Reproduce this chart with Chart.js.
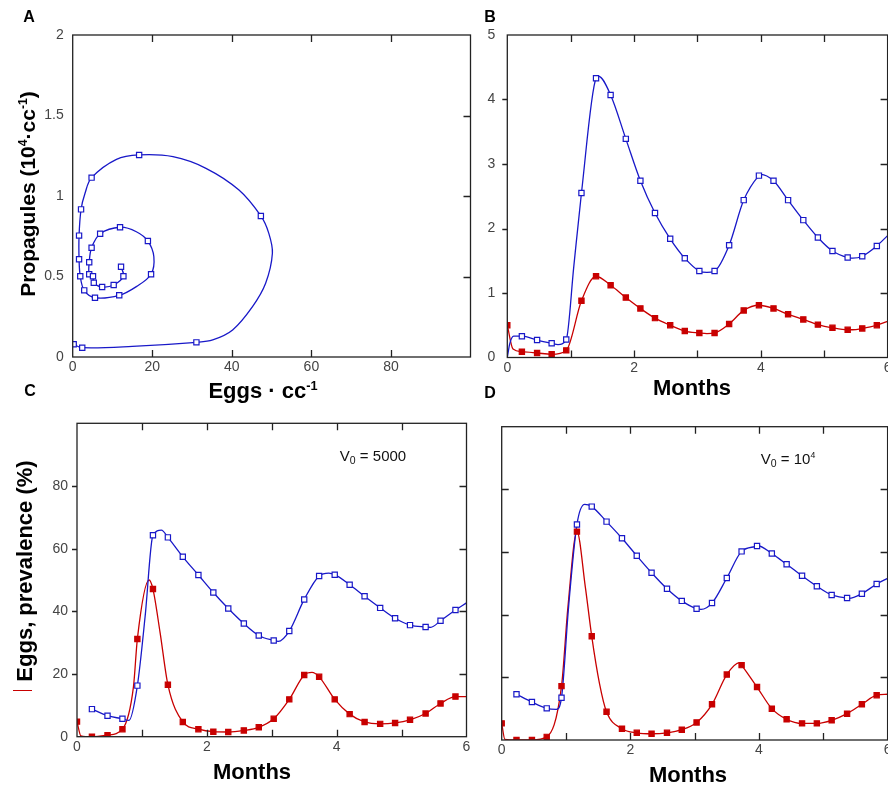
<!DOCTYPE html>
<html><head><meta charset="utf-8">
<script src="https://cdn.jsdelivr.net/npm/chart.js@4.4.0/dist/chart.umd.min.js"></script>
<style>
html,body{margin:0;padding:0;background:#fff;}
body{width:888px;height:789px;overflow:hidden;position:relative;font-family:"Liberation Sans",Arial,sans-serif;}
canvas{position:absolute;}
.t{position:absolute;transform:translate(-50%,-50%);white-space:nowrap;font-weight:bold;color:#000;line-height:1;}
.r{transform:translate(-50%,-50%) rotate(-90deg);}
.n{font-weight:normal;color:#111;}
sup{font-size:58%;vertical-align:0.65em;line-height:0;}
sub{font-size:70%;vertical-align:-0.3em;line-height:0;}
</style></head><body>
<canvas id="cA" width="480" height="390" style="left:0px;top:0px"></canvas>
<canvas id="cB" width="420" height="390" style="left:480px;top:0px"></canvas>
<canvas id="cC" width="480" height="399" style="left:0px;top:390px"></canvas>
<canvas id="cD" width="420" height="399" style="left:480px;top:390px"></canvas>

<div class="t" style="left:29px;top:17px;font-size:16px">A</div>
<div class="t" style="left:490px;top:17px;font-size:16px">B</div>
<div class="t" style="left:30px;top:391px;font-size:16px">C</div>
<div class="t" style="left:490px;top:393px;font-size:16px">D</div>

<div class="t r" style="left:27px;top:194px;font-size:21px">Propagules (10<sup>4</sup>·cc<sup>-1</sup>)</div>
<div class="t" style="left:263px;top:391px;font-size:22px">Eggs · cc<sup>-1</sup></div>
<div class="t" style="left:692px;top:388px;font-size:22px">Months</div>
<div class="t r" style="left:25px;top:571px;font-size:22px">Eggs, prevalence (%)</div>
<div style="position:absolute;left:13px;top:690px;width:19px;height:1px;background:#c80000"></div>
<div class="t" style="left:252px;top:772px;font-size:22px">Months</div>
<div class="t" style="left:688px;top:775px;font-size:22px">Months</div>
<div class="t n" style="left:373px;top:455px;font-size:15px">V<sub>0</sub> = 5000</div>
<div class="t n" style="left:788px;top:458px;font-size:15px">V<sub>0</sub> = 10<sup>4</sup></div>

<script>
// ---------- DATA ----------
// Panel A: phase plot (eggs, propagules), trajectory in time order
const phasePath = [[0,0.09],[0.25,0.079],[2.4,0.058],[15,0.066],[31.1,0.091],[35.2,0.106],[40.2,0.168],[45.2,0.313],[48.5,0.458],[50.2,0.644],[49.3,0.768],[47.3,0.876],[41.8,1.037],[33.5,1.172],[25.2,1.244],[16.7,1.255],[11.0,1.228],[4.75,1.114],[3.1,1.017],[2.1,0.917],[1.6,0.754],[1.6,0.607],[1.9,0.501],[2.9,0.414],[5.6,0.368],[11.7,0.383],[16,0.437],[19.7,0.514],[20.4,0.623],[18.9,0.72],[16,0.778],[11.9,0.806],[6.9,0.766],[4.75,0.679],[4.15,0.588],[4.15,0.514],[5.1,0.501],[5.3,0.461],[7.4,0.435],[10.3,0.447],[12.75,0.501],[12.15,0.561]];
const phaseMarkers = [[0.25,0.079],[2.4,0.058],[31.1,0.091],[47.3,0.876],[16.7,1.255],[4.75,1.114],[2.1,0.917],[1.6,0.754],[1.6,0.607],[1.9,0.501],[2.9,0.414],[5.6,0.368],[11.7,0.383],[19.7,0.514],[18.9,0.72],[11.9,0.806],[6.9,0.766],[4.75,0.679],[4.15,0.588],[4.15,0.514],[5.1,0.501],[5.3,0.461],[7.4,0.435],[10.3,0.447],[12.75,0.501],[12.15,0.561]];

// weekly sample times (months)
const weeks = [0,0.23,0.47,0.70,0.93,1.17,1.40,1.63,1.87,2.10,2.33,2.57,2.80,3.03,3.27,3.50,3.73,3.97,4.20,4.43,4.67,4.90,5.13,5.37,5.60,5.83];

// Panel B
const propB = [null,0.33,0.27,0.22,0.28,2.55,4.33,4.07,3.39,2.74,2.24,1.84,1.54,1.34,1.34,1.74,2.44,2.82,2.74,2.44,2.13,1.86,1.65,1.55,1.57,1.73];
const eggsB = [0.50,0.09,0.07,0.05,0.11,0.88,1.26,1.12,0.93,0.76,0.61,0.50,0.41,0.38,0.38,0.52,0.73,0.81,0.76,0.67,0.59,0.51,0.46,0.43,0.45,0.50];
const propBExtra = [[0,0],[0.04,0.22],[0.1,0.33],[0.8,0.2],[1.05,1.42],[1.44,4.36],[3.15,1.32],[4.0,2.84],[5.45,1.54],[6.0,1.89]];
const eggsBExtra = [[0.09,0.13],[3.15,0.37],[5.45,0.43],[6.0,0.56]];

// Panel C (V0 = 5000)
const prevC = [null,8.8,6.7,5.7,16.3,64.3,63.6,57.4,51.6,46.0,40.9,36.1,32.3,30.7,33.7,43.8,51.3,51.7,48.5,44.8,41.1,37.8,35.6,35.0,37.0,40.4];
const eggsC = [4.8,0,0.5,2.4,31.2,47.1,16.6,4.7,2.4,1.6,1.5,2.0,3.0,5.7,11.9,19.7,19.1,11.9,7.2,4.7,4.1,4.4,5.4,7.4,10.6,12.8];
const prevCExtra = [[0.8,5.2],[1.05,38.5],[1.30,65.9],[3.1,30.4],[3.88,52.2],[5.45,34.9],[6.0,42.7]];
const eggsCExtra = [[0.06,0.3],[0.87,16],[1.11,50.0],[1.28,33.2],[3.62,20.5],[6.0,12.8]];

// Panel D (V0 = 10^4)
const prevD = [null,14.6,12.1,10.1,13.5,68.8,74.5,69.7,64.4,58.8,53.4,48.3,44.4,41.9,43.7,51.7,60.2,61.9,59.5,56.1,52.4,49.1,46.3,45.3,46.7,49.8];
const eggsD = [5.3,0,0,1.0,17.2,66.5,33.1,9.0,3.6,2.3,2.0,2.3,3.3,5.6,11.4,20.9,23.9,16.9,10.0,6.6,5.3,5.3,6.3,8.4,11.4,14.3];
const prevDExtra = [[0.85,9.8],[1.04,42.5],[1.29,75.2],[3.1,41.7],[3.98,62.0],[5.4,45.2],[6.0,51.6]];
const eggsDExtra = [[0.05,0.2],[1.03,42.5],[1.30,48.9],[1.52,18.1],[3.70,24.7],[6.0,14.6]];

// ---------- HELPERS ----------
const BLUE = '#1818c8', RED = '#c80000';
const pts = a => a.map(p => ({x: p[0], y: p[1]}));
const markerPts = vals => weeks.map((t, i) => ({x: t, y: vals[i]})).filter(p => p.y !== null);
const curvePts = (vals, extra) => markerPts(vals).concat(pts(extra)).sort((a, b) => a.x - b.x);

function curveDS(data, color, mono) {
  const d = {data, showLine: true, borderColor: color, borderWidth: 1.3, pointRadius: 0, order: 1};
  if (mono) d.cubicInterpolationMode = 'monotone'; else d.tension = 0.35;
  return d;
}
function markDS(data, color, filled) {
  return {data, showLine: false, pointStyle: 'rect', pointRadius: 3.7, borderWidth: 1.2,
    borderColor: color, backgroundColor: filled ? color : '#fff', order: 0};
}

const framePlugin = {
  id: 'frame',
  afterDatasetsDraw(chart, args, opts) {
    const {ctx, chartArea: a, scales: {x, y}} = chart;
    ctx.save();
    ctx.strokeStyle = '#222'; ctx.lineWidth = 1.3;
    ctx.strokeRect(a.left, a.top, a.right - a.left, a.bottom - a.top);
    const L = 7;
    ctx.beginPath();
    x.ticks.forEach(t => {
      if (t.value <= x.min || t.value >= x.max) return;
      const px = Math.round(x.getPixelForValue(t.value)) + 0.5;
      ctx.moveTo(px, a.top); ctx.lineTo(px, a.top + L);
      ctx.moveTo(px, a.bottom); ctx.lineTo(px, a.bottom - L);
    });
    y.ticks.forEach(t => {
      if (t.value <= y.min || t.value >= y.max) return;
      const py = Math.round(y.getPixelForValue(t.value)) + 0.5;
      ctx.moveTo(a.right, py); ctx.lineTo(a.right - L, py);
      if (opts.left === 'out') { ctx.moveTo(a.left, py); ctx.lineTo(a.left - 5, py); }
      else if (opts.left === 'in') { ctx.moveTo(a.left, py); ctx.lineTo(a.left + L, py); }
    });
    ctx.stroke();
    ctx.restore();
  }
};

function makePanel(id, box, area, xs, ys, datasets, leftTicks, yPad) {
  const yW = area.l - box.l, xH = box.t + box.h - area.b;
  const tickFont = {family: 'Liberation Sans', size: 14};
  return new Chart(document.getElementById(id), {
    type: 'scatter',
    data: {datasets},
    plugins: [framePlugin],
    options: {
      responsive: false, animation: false, devicePixelRatio: 1,
      layout: {padding: {left: 0, bottom: 0, top: area.t - box.t, right: box.l + box.w - area.r}},
      plugins: {legend: {display: false}, tooltip: {enabled: false}, frame: {left: leftTicks}},
      scales: {
        x: {type: 'linear', min: xs.min, max: xs.max,
          grid: {display: false, drawTicks: false}, border: {display: false},
          ticks: {stepSize: xs.step, color: '#444', font: tickFont, padding: 2, maxRotation: 0,
            callback: xs.cb},
          afterFit(s) { s.height = xH; }},
        y: {type: 'linear', min: ys.min, max: ys.max,
          grid: {display: false, drawTicks: false}, border: {display: false},
          ticks: {stepSize: ys.step, color: '#444', font: tickFont, padding: yPad, callback: ys.cb},
          afterFit(s) { s.width = yW; }}
      }
    }
  });
}

const evenOnly = v => (v % 2 === 0 ? String(v) : '');

// Panel A
makePanel('cA', {l: 0, t: 0, w: 480, h: 390}, {l: 72.7, t: 35, r: 470.5, b: 357},
  {min: 0, max: 100, step: 20, cb: v => (v === 100 ? '' : String(v))},
  {min: 0, max: 2, step: 0.5, cb: v => String(v)},
  [curveDS(pts(phasePath), BLUE, false), markDS(pts(phaseMarkers), BLUE, false)], 'none', 9);

// Panel B
makePanel('cB', {l: 480, t: 0, w: 420, h: 390}, {l: 507.3, t: 35, r: 887.6, b: 357.5},
  {min: 0, max: 6, step: 1, cb: evenOnly},
  {min: 0, max: 5, step: 1, cb: v => String(v)},
  [curveDS(curvePts(propB, propBExtra), BLUE, true), markDS(markerPts(propB), BLUE, false),
   curveDS(curvePts(eggsB, eggsBExtra), RED, true), markDS(markerPts(eggsB), RED, true)], 'out', 12);

// Panel C
makePanel('cC', {l: 0, t: 390, w: 480, h: 399}, {l: 77, t: 423.3, r: 466.5, b: 736.7},
  {min: 0, max: 6, step: 1, cb: evenOnly},
  {min: 0, max: 100, step: 20, cb: v => (v === 100 ? '' : String(v))},
  [curveDS(curvePts(prevC, prevCExtra), BLUE, true), markDS(markerPts(prevC), BLUE, false),
   curveDS(curvePts(eggsC, eggsCExtra), RED, true), markDS(markerPts(eggsC), RED, true)], 'out', 9);

// Panel D
makePanel('cD', {l: 480, t: 390, w: 420, h: 399}, {l: 501.7, t: 426.7, r: 887.6, b: 740},
  {min: 0, max: 6, step: 1, cb: evenOnly},
  {min: 0, max: 100, step: 20, cb: v => ''},
  [curveDS(curvePts(prevD, prevDExtra), BLUE, true), markDS(markerPts(prevD), BLUE, false),
   curveDS(curvePts(eggsD, eggsDExtra), RED, true), markDS(markerPts(eggsD), RED, true)], 'in', 9);
</script>
</body></html>
